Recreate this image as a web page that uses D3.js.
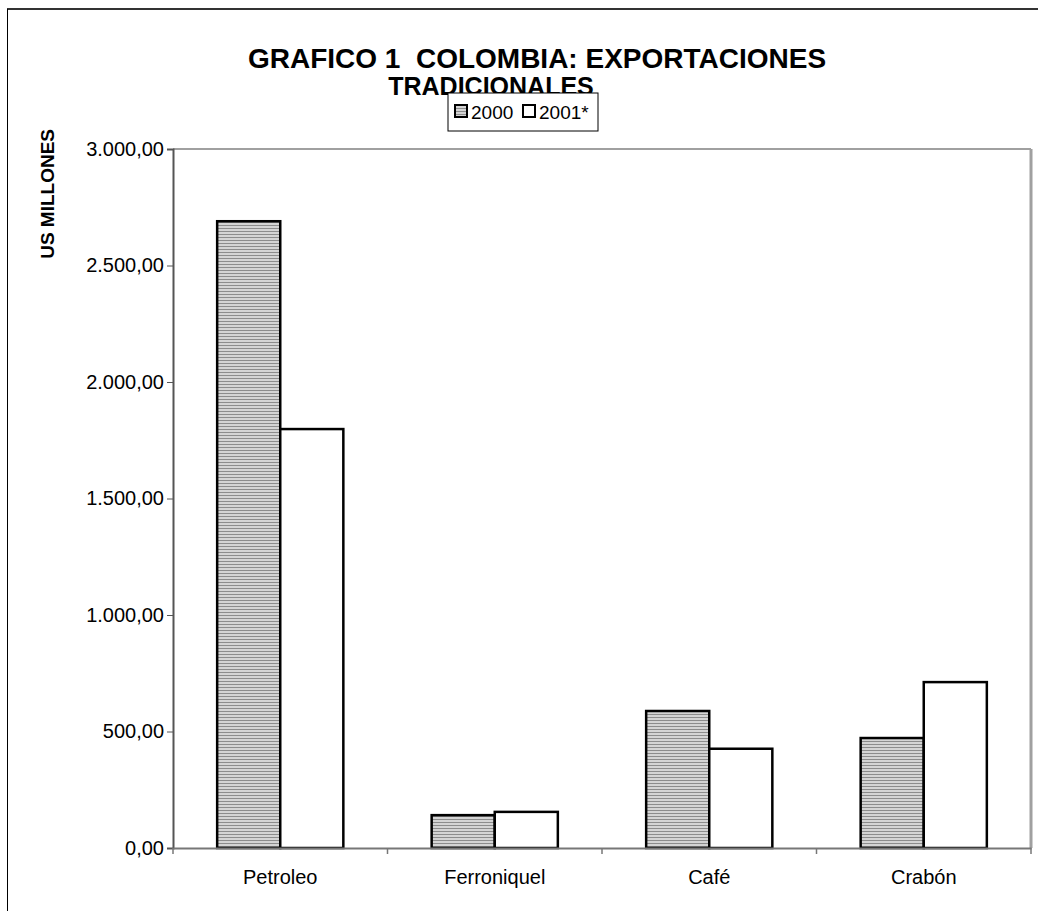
<!DOCTYPE html>
<html>
<head>
<meta charset="utf-8">
<script src="https://cdn.jsdelivr.net/npm/d3@7"></script>
<style>
  body { margin: 0; background: #fff; }
  text { font-family: "Liberation Sans", Arial, sans-serif; }
</style>
</head>
<body>
<svg id="chart" width="1038" height="911"></svg>
<script>
var categories = ["Petroleo", "Ferroniquel", "Café", "Crabón"],
    seriesNames = ["2000", "2001*"],
    values2000 = [2690, 141, 588, 472],
    values2001 = [1798, 155, 426, 712],
    yTicks = [0, 500, 1000, 1500, 2000, 2500, 3000];

var svg = d3.select("#chart"),
    plotLeft = 173, plotRight = 1031, plotTop = 149, plotBottom = 848;

var locale = d3.formatLocale({decimal: ",", thousands: ".", grouping: [3], currency: ["", ""]}),
    fmt = locale.format(",.2f");

//
// hatch for the 2000 series
var defs = svg.append("defs");
var pat = defs.append("pattern")
  .attr("id", "hatch").attr("patternUnits", "userSpaceOnUse")
  .attr("width", 6).attr("height", 3);
pat.append("rect").attr("width", 6).attr("height", 3).attr("fill", "#d4d4d4");
pat.append("rect").attr("width", 6).attr("height", 1).attr("fill", "#8c8c8c");

//
// outer frame
svg.append("line").attr("x1", 7).attr("x2", 1038).attr("y1", 9).attr("y2", 9)
  .attr("stroke", "#333").attr("stroke-width", 2);
svg.append("line").attr("x1", 7.5).attr("x2", 7.5).attr("y1", 9).attr("y2", 911)
  .attr("stroke", "#000").attr("stroke-width", 1);

var x = d3.scaleBand().domain(categories).range([plotLeft, plotRight]);
var x1 = d3.scaleBand().domain(seriesNames).range([0, x.bandwidth()]).paddingInner(0).paddingOuter(0.7);
var y = d3.scaleLinear().domain([0, 3000]).range([plotBottom, plotTop]);

//
// plot area border (top + right, gray)
svg.append("line").attr("x1", plotLeft).attr("x2", plotRight).attr("y1", plotTop).attr("y2", plotTop)
  .attr("stroke", "#a0a0a0").attr("stroke-width", 2);
svg.append("line").attr("x1", plotRight).attr("x2", plotRight).attr("y1", plotTop).attr("y2", plotBottom)
  .attr("stroke", "#a0a0a0").attr("stroke-width", 3);

//
// bars
var rows = categories.map((c, i) => ({cat: c, vals: [values2000[i], values2001[i]]}));
var groups = svg.selectAll("g.grp").data(rows).enter().append("g")
  .attr("class", "grp")
  .attr("transform", (d) => "translate(" + x(d.cat) + ",0)");
groups.selectAll("rect").data((d) => d.vals.map((v, k) => ({key: seriesNames[k], v: v})))
  .enter().append("rect")
  .attr("x", (d) => x1(d.key))
  .attr("y", (d) => y(d.v))
  .attr("width", x1.bandwidth())
  .attr("height", (d) => y(0) - y(d.v))
  .attr("fill", (d) => d.key === "2000" ? "url(#hatch)" : "#fff")
  .attr("stroke", "#000").attr("stroke-width", 2.5);

//
// axes
var yAxis = svg.append("g").attr("transform", "translate(" + plotLeft + ",0)")
  .call(d3.axisLeft(y).tickValues(yTicks).tickFormat(fmt).tickSize(6).tickPadding(3));
yAxis.select(".domain").attr("stroke", "#555").attr("stroke-width", 2);
yAxis.selectAll(".tick line").attr("stroke", "#555");
yAxis.selectAll("text").attr("font-size", 20).attr("fill", "#000");

var xAxis = svg.append("g").attr("transform", "translate(0," + plotBottom + ")")
  .call(d3.axisBottom(x).tickSize(0).tickPadding(22));
xAxis.select(".domain").attr("stroke", "#777").attr("stroke-width", 2);
xAxis.selectAll("text").attr("font-size", 20).attr("fill", "#000");
svg.append("g").selectAll("line").data(categories.concat([""])).enter().append("line")
  .attr("x1", (d, i) => plotLeft + i * x.step()).attr("x2", (d, i) => plotLeft + i * x.step())
  .attr("y1", plotBottom).attr("y2", plotBottom + 6)
  .attr("stroke", "#777").attr("stroke-width", 1.5);

//
// titles
svg.append("text").attr("x", 537).attr("y", 68).attr("text-anchor", "middle")
  .attr("font-size", 28).attr("font-weight", "bold").attr("xml:space", "preserve")
  .text("GRAFICO 1  COLOMBIA: EXPORTACIONES");
svg.append("text").attr("x", 491).attr("y", 95).attr("text-anchor", "middle")
  .attr("font-size", 25).attr("font-weight", "bold")
  .text("TRADICIONALES");
svg.append("text").attr("transform", "translate(54,129) rotate(-90)")
  .attr("text-anchor", "end").attr("font-size", 19).attr("font-weight", "bold")
  .text("US MILLONES");

//
// legend
var lg = svg.append("g").attr("transform", "translate(448,93)");
lg.append("rect").attr("width", 150).attr("height", 38)
  .attr("fill", "#fff").attr("stroke", "#000").attr("stroke-width", 1);
var items = lg.selectAll("g").data(seriesNames).enter().append("g")
  .attr("transform", (d, i) => "translate(" + (7 + i * 68) + ",0)");
items.append("rect").attr("x", 0).attr("y", 12).attr("width", 12).attr("height", 12)
  .attr("fill", (d, i) => i === 0 ? "url(#hatch)" : "#fff")
  .attr("stroke", "#000").attr("stroke-width", 2);
items.append("text").attr("x", 16).attr("y", 26).attr("font-size", 19).text((d) => d);
</script>
</body>
</html>
